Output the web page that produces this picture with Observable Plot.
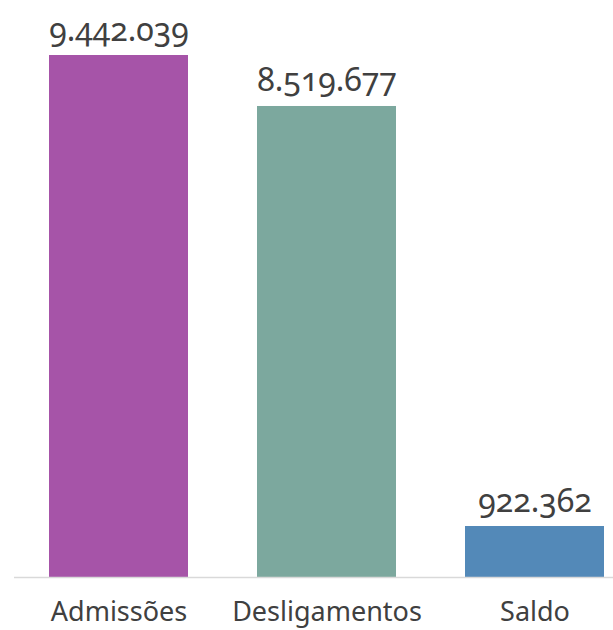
<!DOCTYPE html>
<html>
<head>
<meta charset="utf-8">
<script src="https://cdn.jsdelivr.net/npm/d3@7"></script>
<script src="https://cdn.jsdelivr.net/npm/@observablehq/plot@0.6"></script>
<style>
  html, body { margin: 0; padding: 0; background: #fff; }
</style>
</head>
<body>
<div id="chart"></div>
<script>
const categories = ["Admissões", "Desligamentos", "Saldo"];
const values = [9442039, 8519677, 922362];
const colors = ["#a654a8", "#7ca89e", "#5389b8"];

const data = categories.map((c, i) => ({cat: c, value: values[i]}));
const fmt = d3.formatLocale({decimal: ",", thousands: ".", grouping: [3], currency: ["R$", ""]}).format(",d");

const chart = Plot.plot({
  width: 613,
  height: 630,
  marginTop: 55,
  marginBottom: 53,
  marginLeft: 14,
  marginRight: 0,
  style: {
    fontFamily: "'Noto Sans', sans-serif",
    fontSize: "27px",
    color: "#404040",
    background: "#fff",
    fontVariantNumeric: "oldstyle-nums"
  },
  x: {domain: categories, range: [40, 613], paddingInner: 0.332, paddingOuter: 0.043, tickSize: 0, tickPadding: 24, label: null},
  y: {domain: [0, 9442039], axis: null},
  color: {domain: categories, range: colors},
  marks: [
    Plot.barY(data, {x: "cat", y: "value", fill: "cat"}),
    Plot.ruleY([0], {stroke: "#d9d9d9", strokeWidth: 1.5}),
    Plot.text(data, {x: "cat", y: "value", text: d => fmt(d.value), lineAnchor: "bottom", dy: -15, fontSize: 32, fill: "#404040"})
  ]
});
document.getElementById("chart").appendChild(chart);
</script>
</body>
</html>
